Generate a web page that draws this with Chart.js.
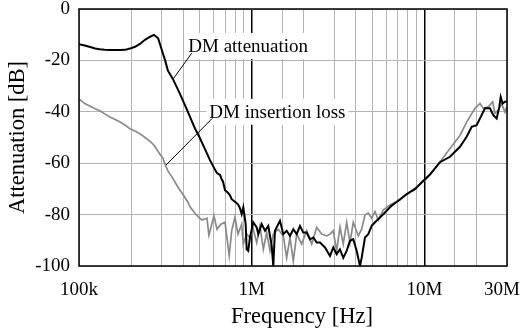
<!DOCTYPE html>
<html>
<head>
<meta charset="utf-8">
<script src="https://cdn.jsdelivr.net/npm/chart.js@4.4.1/dist/chart.umd.min.js"></script>
<style>
  html, body { margin: 0; padding: 0; background: #fff; }
  #wrap { width: 520px; height: 331px; }
</style>
</head>
<body>
<div id="wrap"><canvas id="chart"></canvas></div>
<script>
// DM attenuation (black)
const attFreq = [
  100e3, 108e3, 116e3, 124e3, 132e3, 141e3, 151e3, 162e3, 173e3, 185e3, 197e3, 211e3, 225e3, 241e3, 258e3, 272e3,
  287e3, 306e3, 315e3, 327e3, 350e3, 384e3, 411e3, 439e3, 469e3, 495e3, 536e3, 573e3, 612e3, 629e3, 655e3, 672e3,
  681e3, 700e3, 728e3, 748e3, 765e3, 799e3, 832e3, 854e3, 874e3, 893e3, 922e3, 934e3, 954e3, 976e3,
  1.020e6, 1.068e6, 1.091e6, 1.141e6, 1.193e6, 1.246e6, 1.304e6, 1.332e6, 1.362e6, 1.423e6, 1.456e6, 1.522e6,
  1.592e6, 1.664e6, 1.739e6, 1.819e6, 1.901e6, 1.986e6, 2.078e6, 2.172e6, 2.270e6, 2.375e6, 2.482e6, 2.653e6,
  2.835e6, 2.963e6, 3.099e6, 3.239e6, 3.384e6, 3.542e6, 3.701e6, 3.867e6, 4.046e6, 4.228e6, 4.325e6, 4.520e6,
  4.723e6, 4.942e6, 5.164e6, 5.520e6, 5.900e6, 6.451e6, 7.042e6, 7.877e6, 8.799e6, 9.829e6, 10.75e6, 12.28e6,
  14.03e6, 16.03e6, 17.52e6, 18.74e6, 19.57e6, 20.02e6, 21.40e6, 22.36e6, 23.91e6, 24.99e6, 26.15e6, 27.07e6,
  27.57e6, 28.31e6, 29.20e6, 30e6
];
const attDb = [
  -13.7, -14.2, -14.8, -15.4, -15.7, -15.9, -16, -16, -16, -15.9, -15.4, -14.7, -13.6, -12.0, -10.8, -10.1,
  -11.4, -17.3, -20, -24, -27.3, -33, -37.5, -42, -46.5, -49.5, -54.5, -58.8, -62.5, -63.8, -64.6, -66.5,
  -67, -70.5, -71.5, -72.5, -74, -75, -76, -77.5, -79.8, -77.2, -83.7, -93.5, -94.1, -88.9,
  -83, -85, -87.6, -83.7, -86.3, -84.4, -92.2, -100, -86.3, -83.7, -82.4, -87.6,
  -86.3, -88.3, -85.7, -87.6, -84.4, -87, -87, -89.6, -88.9, -90.9, -90.9, -92.8,
  -96.1, -92.8, -95.4, -93.5, -96.8, -94.1, -90.2, -89.6, -94.1, -100, -96.8, -88.9,
  -87.6, -84.4, -83, -81.1, -79.2, -76.5, -74.6, -72, -70.1, -66.8, -64.4, -59.6,
  -57.5, -53.6, -49.7, -45.8, -45.4, -45.2, -41.3, -38.6, -38.6, -41.3, -42.6, -38.1,
  -34.2, -36.8, -36.1, -36
];

// DM insertion loss (grey)
const ilFreq = [
  100e3, 108e3, 116e3, 124e3, 132e3, 141e3, 151e3, 162e3, 173e3, 185e3, 197e3, 211e3, 225e3, 241e3, 258e3, 272e3,
  294e3, 306e3, 315e3, 327e3, 350e3, 364e3, 384e3, 400e3, 427e3, 439e3, 469e3, 495e3, 515e3, 550e3, 565e3, 604e3,
  629e3, 663e3, 700e3, 740e3, 765e3, 799e3, 832e3, 874e3, 893e3, 934e3, 976e3,
  1.020e6, 1.068e6, 1.115e6, 1.166e6, 1.220e6, 1.275e6, 1.332e6, 1.423e6, 1.522e6, 1.592e6, 1.664e6, 1.739e6,
  1.819e6, 1.945e6, 2.078e6, 2.222e6, 2.375e6, 2.539e6, 2.713e6, 2.835e6, 2.963e6, 3.099e6, 3.239e6, 3.384e6,
  3.542e6, 3.701e6, 3.867e6, 4.133e6, 4.325e6, 4.520e6, 4.723e6, 4.942e6, 5.164e6, 5.397e6, 5.768e6, 6.307e6,
  7.203e6, 8.047e6, 9.001e6, 10.28e6, 12.28e6, 14.03e6, 16.03e6, 17.52e6, 19.57e6, 20.92e6, 21.86e6, 23.37e6,
  24.79e6, 25.56e6, 26.71e6, 27.94e6, 29.20e6, 30e6
];
const ilDb = [
  -35, -36.8, -37.8, -38.8, -39.6, -40.8, -42, -43, -44, -45.2, -46.6, -47.5, -48.5, -50, -51.5, -53,
  -56.5, -58, -60.5, -63, -66, -68, -70.5, -72.2, -75.2, -77, -79.5, -81.2, -82.1, -81.4, -88, -80.5,
  -85.7, -83.7, -83, -96, -86.3, -81.1, -87.6, -83.7, -91.5, -87.6, -88.9,
  -85.7, -90.9, -84.4, -93.5, -87, -94.1, -87.6, -85.7, -88.3, -96.8, -88.9, -98.1,
  -87.6, -91.5, -86.3, -91.5, -85, -87.6, -88.3, -87.6, -86.3, -94.1, -84.8, -91.5,
  -83, -90.9, -83, -88.3, -85.7, -80.1, -79.4, -81.4, -78.8, -82.1, -78.2, -76.3,
  -74.3, -71.7, -69.2, -66, -59.5, -54.3, -49.2, -44, -38.6, -36.8, -38.6, -38.1,
  -36.1, -40.6, -39.3, -36.8, -40.1, -38
];

const xTickValues = [1e5, 1e6, 1e7, 3e7];
const xTickLabels = ['100k', '1M', '10M', '30M'];
const majorLines = [1e6, 1e7];

// callouts in data units: label left/centre, leader line start and end
const callouts = [
  { text: 'DM attenuation', at: [429e3, -14.4], from: [449e3, -17.2], to: [351e3, -27.2] },
  { text: 'DM insertion loss', at: [568e3, -40], from: [590e3, -42.6], to: [318e3, -60.8] }
];

const serif = 'Liberation Serif, Times New Roman, serif';

const decor = {
  id: 'decor',
  beforeDatasetsDraw(chart) {
    const { ctx, scales: { x, y } } = chart;
    ctx.save();
    ctx.font = '19px ' + serif;
    ctx.textBaseline = 'middle';
    callouts.forEach(c => {
      const tx = x.getPixelForValue(c.at[0]);
      const ty = y.getPixelForValue(c.at[1]);
      const w = ctx.measureText(c.text).width;
      ctx.fillStyle = '#fff';
      ctx.fillRect(tx - 3, ty - 13, w + 6, 26);
      ctx.fillStyle = '#000';
      ctx.textAlign = 'left';
      ctx.fillText(c.text, tx, ty + 1);
      ctx.strokeStyle = '#000';
      ctx.lineWidth = 1;
      ctx.beginPath();
      ctx.moveTo(x.getPixelForValue(c.from[0]), y.getPixelForValue(c.from[1]));
      ctx.lineTo(x.getPixelForValue(c.to[0]), y.getPixelForValue(c.to[1]));
      ctx.stroke();
    });
    ctx.restore();
  },
  afterDraw(chart) {
    const { ctx, chartArea: a, scales: { x } } = chart;
    ctx.save();
    ctx.strokeStyle = '#000';
    ctx.lineWidth = 1.5;
    ctx.strokeRect(a.left, a.top, a.right - a.left, a.bottom - a.top);

    ctx.fillStyle = '#000';
    ctx.font = '19px ' + serif;
    ctx.textBaseline = 'middle';
    xTickValues.forEach((v, i) => {
      const px = x.getPixelForValue(v);
      const w = ctx.measureText(xTickLabels[i]).width;
      let left = px - w / 2;
      if (left + w > chart.width) left = chart.width - w;
      ctx.textAlign = 'left';
      ctx.fillText(xTickLabels[i], left, a.bottom + 24);
    });

    ctx.font = '22.5px ' + serif;
    ctx.textAlign = 'center';
    ctx.fillText('Frequency [Hz]', (a.left + a.right) / 2 + 9, a.bottom + 51);

    ctx.translate(18, (a.top + a.bottom) / 2);
    ctx.rotate(-Math.PI / 2);
    ctx.fillText('Attenuation [dB]', 0, 0);
    ctx.restore();
  }
};

new Chart(document.getElementById('chart'), {
  type: 'line',
  data: {
    datasets: [
      {
        label: 'DM attenuation',
        data: attFreq.map((f, i) => ({ x: f, y: attDb[i] })),
        borderColor: '#000',
        borderWidth: 2,
        pointRadius: 0,
        tension: 0
      },
      {
        label: 'DM insertion loss',
        data: ilFreq.map((f, i) => ({ x: f, y: ilDb[i] })),
        borderColor: '#8a8a8a',
        borderWidth: 1.7,
        pointRadius: 0,
        tension: 0
      }
    ]
  },
  options: {
    responsive: true,
    maintainAspectRatio: false,
    animation: false,
    devicePixelRatio: 1,
    layout: { padding: { top: 9, right: 13, left: 0, bottom: 0 } },
    plugins: { legend: { display: false }, tooltip: { enabled: false } },
    scales: {
      x: {
        type: 'logarithmic',
        min: 1e5,
        max: 3e7,
        ticks: { display: false },
        border: { display: false },
        grid: {
          drawTicks: false,
          color: c => (c.tick && majorLines.includes(c.tick.value)) ? '#000' : '#b4b4b4',
          lineWidth: c => (c.tick && majorLines.includes(c.tick.value)) ? 1.5 : 1
        },
        afterFit(s) { s.height = 65; s.paddingLeft = 0; s.paddingRight = 0; }
      },
      y: {
        min: -100,
        max: 0,
        ticks: { stepSize: 20, color: '#000', padding: 9, font: { family: serif, size: 19 } },
        border: { display: false },
        grid: { drawTicks: false, color: '#b4b4b4', lineWidth: 1 },
        afterFit(s) { s.width = 79; s.paddingTop = 0; s.paddingBottom = 0; }
      }
    }
  },
  plugins: [decor]
});
</script>
</body>
</html>
